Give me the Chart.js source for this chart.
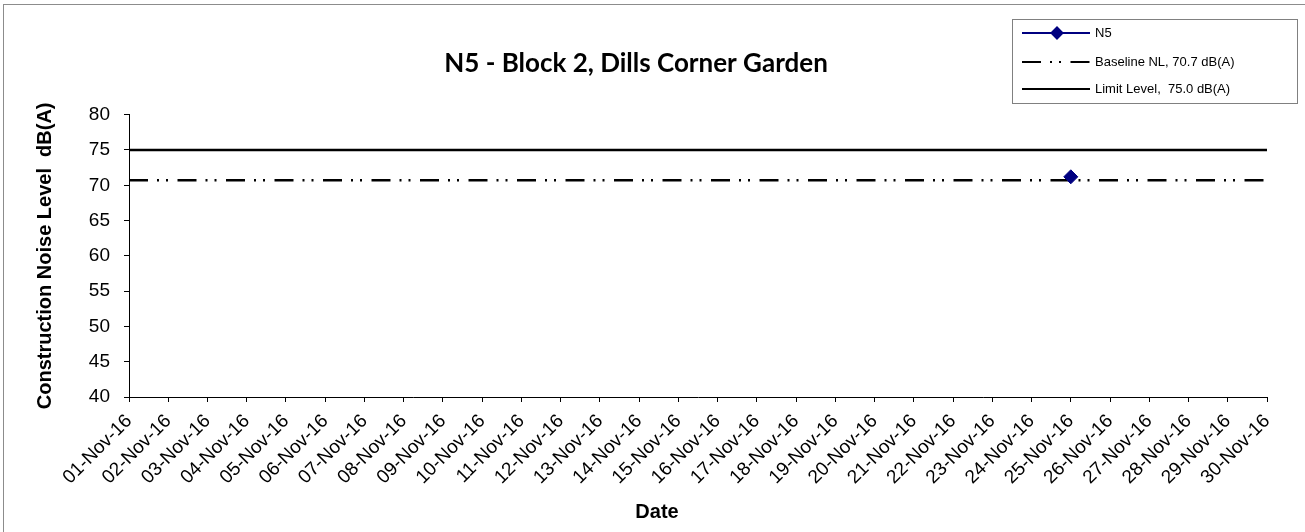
<!DOCTYPE html>
<html>
<head>
<meta charset="utf-8">
<title>N5 - Block 2, Dills Corner Garden</title>
<script src="https://cdn.jsdelivr.net/npm/chart.js@4.4.1/dist/chart.umd.min.js"></script>
<style>
  html, body { margin: 0; padding: 0; background: #fff; overflow: hidden; }
  #wrap { position: relative; width: 1305px; height: 532px; }
  #frame {
    position: absolute; left: 3px; top: 4px; width: 1330px; height: 560px;
    border: 1px solid #8c8c8c; pointer-events: none;
  }
</style>
</head>
<body>
<div id="wrap">
  <canvas id="noiseChart" width="1305" height="532"></canvas>
  <div id="frame"></div>
</div>
<script>
// ---------- data ---------- //
const dates = [
  "01-Nov-16", "02-Nov-16", "03-Nov-16", "04-Nov-16", "05-Nov-16", "06-Nov-16",
  "07-Nov-16", "08-Nov-16", "09-Nov-16", "10-Nov-16", "11-Nov-16", "12-Nov-16",
  "13-Nov-16", "14-Nov-16", "15-Nov-16", "16-Nov-16", "17-Nov-16", "18-Nov-16",
  "19-Nov-16", "20-Nov-16", "21-Nov-16", "22-Nov-16", "23-Nov-16", "24-Nov-16",
  "25-Nov-16", "26-Nov-16", "27-Nov-16", "28-Nov-16", "29-Nov-16", "30-Nov-16"
];

// measured Leq at N5 (only one reading this month)
const n5Values = [
  null, null, null, null, null, null, null, null, null, null,
  null, null, null, null, null, null, null, null, null, null,
  null, null, null, null, 71.2, null, null, null, null, null
];

const baselineNL = 70.7;
const limitLevel = 75.0;

const yTicks = [40, 45, 50, 55, 60, 65, 70, 75, 80];

const baselineValues = dates.map(() => baselineNL);
const limitValues = dates.map(() => limitLevel);

const dashDot = [19, 9, 2, 7, 2, 9.5];

// ---------- legend box + x title (Excel style) ---------- //
const excelLegend = {
  id: "excelLegend",
  afterDraw(chart) {
    const ctx = chart.ctx;
    const left = 1012, top = 19, right = 1297, bottom = 103;
    const rows = [33, 62, 89];

    ctx.save();
    ctx.fillStyle = "#fff";
    ctx.fillRect(left, top, right - left, bottom - top);
    ctx.strokeStyle = "#808080";
    ctx.lineWidth = 1;
    ctx.strokeRect(left + 0.5, top + 0.5, right - left, bottom - top);

    chart.data.datasets.forEach((ds, i) => {
      const y = rows[i];
      ctx.beginPath();
      ctx.setLineDash(ds.borderDash || []);
      ctx.strokeStyle = ds.borderColor;
      ctx.lineWidth = 2;
      ctx.moveTo(1022, y);
      ctx.lineTo(1090, y);
      ctx.stroke();
      ctx.setLineDash([]);

      if (ds.pointStyle && ds.pointRadius > 0) {
        ctx.fillStyle = ds.pointBackgroundColor;
        ctx.strokeStyle = ds.pointBorderColor;
        Chart.helpers.drawPoint(ctx, { pointStyle: ds.pointStyle, radius: 5.5, borderWidth: 1 }, 1057, y);
      }

      ctx.fillStyle = "#000";
      ctx.font = '13px "Liberation Sans", Arial, sans-serif';
      ctx.textAlign = "left";
      ctx.textBaseline = "middle";
      ctx.fillText(ds.label, 1095, y + 0.5);
    });

    // x axis title sits left of centre in the original
    ctx.font = 'bold 20px "Liberation Sans", Arial, sans-serif';
    ctx.textAlign = "center";
    ctx.textBaseline = "middle";
    ctx.fillText("Date", 657, 512);
    ctx.restore();
  }
};

// ---------- chart ---------- //
const ctx = document.getElementById("noiseChart").getContext("2d");
const noiseChart = new Chart(ctx, {
  type: "line",
  data: {
    labels: dates,
    datasets: [
      {
        label: "N5",
        data: n5Values,
        borderColor: "#000080",
        backgroundColor: "#000080",
        borderWidth: 2,
        pointStyle: "rectRot",
        pointRadius: 7,
        pointBackgroundColor: "#000080",
        pointBorderColor: "#000080",
        pointBorderWidth: 1,
        spanGaps: false,
      },
      {
        label: "Baseline NL, 70.7 dB(A)",
        data: baselineValues,
        borderColor: "#000",
        borderWidth: 2.5,
        borderDash: dashDot,
        pointRadius: 0,
      },
      {
        label: "Limit Level,  75.0 dB(A)",
        data: limitValues,
        borderColor: "#000",
        borderWidth: 2.5,
        pointRadius: 0,
      },
    ],
  },
  options: {
    responsive: false,
    animation: false,
    layout: {
      padding: { left: 5, right: 38, top: 0, bottom: 0 },
    },
    plugins: {
      legend: { display: false },
      tooltip: { enabled: false },
      title: {
        display: true,
        text: "N5 - Block 2, Dills Corner Garden",
        color: "#000",
        font: { family: "Lato, 'Open Sans', sans-serif", size: 26, weight: "bold" },
        padding: { top: 48, bottom: 35.5 },
      },
    },
    scales: {
      x: {
        type: "category",
        offset: false,
        grid: {
          drawOnChartArea: false,
          drawTicks: true,
          tickLength: 5,
          tickColor: "#000",
        },
        border: { display: true, color: "#000", width: 1 },
        ticks: {
          autoSkip: false,
          maxRotation: 45,
          minRotation: 45,
          padding: 8,
          color: "#000",
          font: { family: "'Liberation Sans', Arial, sans-serif", size: 19 },
        },
        afterFit(scale) {
          scale.height = 135;
        },
      },
      y: {
        min: 40,
        max: 80,
        afterBuildTicks(scale) {
          scale.ticks = yTicks.map((v) => ({ value: v }));
        },
        grid: {
          drawOnChartArea: false,
          drawTicks: true,
          tickLength: 5,
          tickColor: "#000",
        },
        border: { display: true, color: "#000", width: 1 },
        ticks: {
          padding: 14,
          color: "#000",
          font: { family: "'Liberation Sans', Arial, sans-serif", size: 19 },
        },
        title: {
          display: true,
          text: "Construction Noise Level  dB(A)",
          color: "#000",
          font: { family: "'Liberation Sans', Arial, sans-serif", size: 20, weight: "bold" },
          padding: { top: 28, bottom: 0 },
        },
        afterFit(scale) {
          scale.width = 124;
        },
      },
    },
  },
  plugins: [excelLegend],
});
</script>
</body>
</html>
